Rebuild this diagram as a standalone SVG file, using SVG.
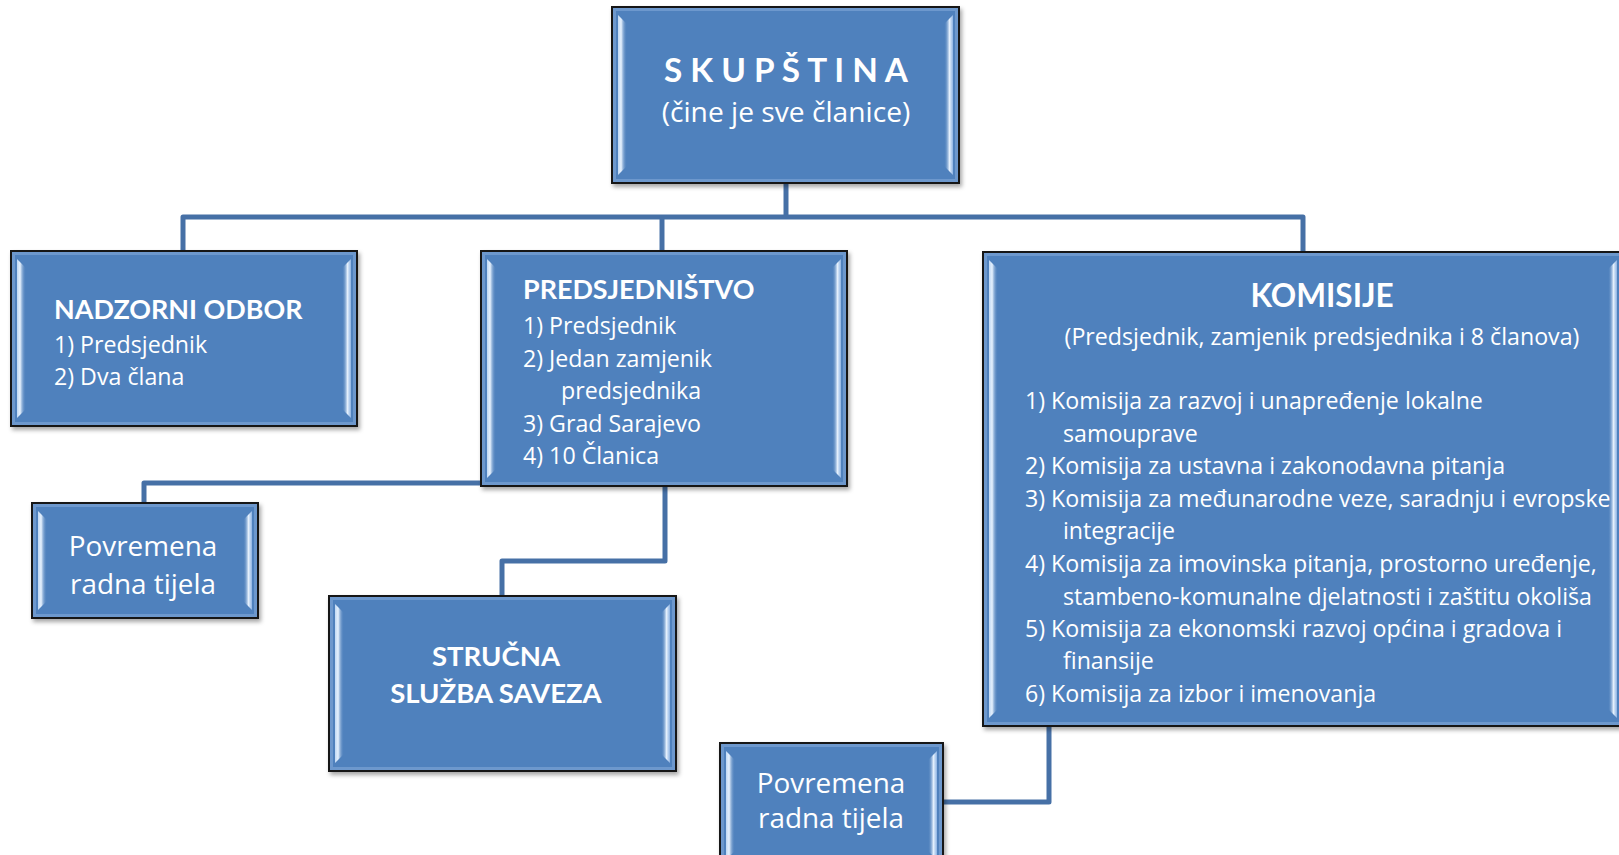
<svg xmlns="http://www.w3.org/2000/svg" width="1619" height="855" viewBox="0 0 1619 855">
<style>
.box{fill:#4F81BD;stroke:#141414;stroke-width:2;}
.hl{fill:none;stroke:#86ABDB;stroke-width:3;opacity:0.55;}
.bl{fill:url(#gL);}
.br{fill:url(#gR);}
.t{font-family:"Open Sans",Lato,sans-serif;fill:#FFFFFF;}
.b{font-family:Lato,"Open Sans",sans-serif;font-weight:bold;}
.body{font-size:23.2px;}
.h{font-size:26.9px;}
.c{text-anchor:middle;}
.pr{font-size:27.9px;}
.conn{fill:none;stroke:#4670A6;stroke-width:5;stroke-linejoin:round;}
</style>
<defs>
<filter id="sh" x="-5%" y="-5%" width="115%" height="120%">
<feDropShadow dx="2" dy="3" stdDeviation="2" flood-color="#000" flood-opacity="0.35"/>
</filter>
<linearGradient id="gL" x1="0" y1="0" x2="1" y2="0">
<stop offset="0" stop-color="#BFD8F4"/>
<stop offset="0.35" stop-color="#E6F1FD"/>
<stop offset="1" stop-color="#4F81BD" stop-opacity="0"/>
</linearGradient>
<linearGradient id="gR" x1="1" y1="0" x2="0" y2="0">
<stop offset="0" stop-color="#8DB3E3"/>
<stop offset="0.4" stop-color="#E6F1FD"/>
<stop offset="1" stop-color="#4F81BD" stop-opacity="0"/>
</linearGradient>
</defs>
<rect width="1619" height="855" fill="#FFFFFF"/>

<g id="connectors">
<path class="conn" d="M786,183 V217"/>
<path class="conn" d="M183,251 V217 H1303 V252"/>
<path class="conn" d="M662,217 V251"/>
<path class="conn" d="M481,483 H144 V503"/>
<path class="conn" d="M665,486 V561 H502 V596"/>
<path class="conn" d="M1049,726 V802 H943"/>
</g>

<g id="skupstina">
<rect class="box" x="612" y="7" width="347" height="176" filter="url(#sh)"/>
<rect class="hl" x="614.5" y="9.5" width="342" height="171"/>
<polygon class="bl" points="618,15 627,24 627,166 618,175"/>
<polygon class="br" points="953,15 944,24 944,166 953,175"/>
<text class="t b c" x="786" y="82" font-size="33.3">S K U P Š T I N A</text>
<text class="t c" x="786" y="122" font-size="28.2">(čine je sve članice)</text>
</g>

<g id="nadzorni-odbor">
<rect class="box" x="11" y="251" width="346" height="175" filter="url(#sh)"/>
<rect class="hl" x="13.5" y="253.5" width="341" height="170"/>
<polygon class="bl" points="17,259 26,268 26,409 17,418"/>
<polygon class="br" points="351,259 342,268 342,409 351,418"/>
<text class="t b h" x="54" y="318.5">NADZORNI ODBOR</text>
<text class="t body" x="54" y="353">1) Predsjednik</text>
<text class="t body" x="54" y="385">2) Dva člana</text>
</g>

<g id="predsjednistvo">
<rect class="box" x="481" y="251" width="366" height="235" filter="url(#sh)"/>
<rect class="hl" x="483.5" y="253.5" width="361" height="230"/>
<polygon class="bl" points="487,259 496,268 496,469 487,478"/>
<polygon class="br" points="841,259 832,268 832,469 841,478"/>
<text class="t b h" x="523" y="299">PREDSJEDNIŠTVO</text>
<text class="t body" x="523" y="334">1) Predsjednik</text>
<text class="t body" x="523" y="366.5">2) Jedan zamjenik</text>
<text class="t body" x="561" y="399">predsjednika</text>
<text class="t body" x="523" y="431.5">3) Grad Sarajevo</text>
<text class="t body" x="523" y="464">4) 10 Članica</text>
</g>

<g id="komisije">
<rect class="box" x="983" y="252" width="640" height="474" filter="url(#sh)"/>
<rect class="hl" x="985.5" y="254.5" width="635" height="469"/>
<polygon class="bl" points="989,260 998,269 998,709 989,718"/>
<polygon class="br" points="1617,260 1608,269 1608,709 1617,718"/>
<text class="t b c" x="1322" y="307" font-size="31.5">KOMISIJE</text>
<text class="t c body" x="1322" y="344.5">(Predsjednik, zamjenik predsjednika i 8 članova)</text>
<text class="t body" x="1025" y="409">1) Komisija za razvoj i unapređenje lokalne</text>
<text class="t body" x="1063" y="441.5">samouprave</text>
<text class="t body" x="1025" y="474">2) Komisija za ustavna i zakonodavna pitanja</text>
<text class="t body" x="1025" y="507">3) Komisija za međunarodne veze, saradnju i evropske</text>
<text class="t body" x="1063" y="539">integracije</text>
<text class="t body" x="1025" y="572">4) Komisija za imovinska pitanja, prostorno uređenje,</text>
<text class="t body" x="1063" y="605">stambeno-komunalne djelatnosti i zaštitu okoliša</text>
<text class="t body" x="1025" y="637">5) Komisija za ekonomski razvoj općina i gradova i</text>
<text class="t body" x="1063" y="669">finansije</text>
<text class="t body" x="1025" y="702">6) Komisija za izbor i imenovanja</text>
</g>

<g id="povremena-1">
<rect class="box" x="32" y="503" width="226" height="115" filter="url(#sh)"/>
<rect class="hl" x="34.5" y="505.5" width="221" height="110"/>
<polygon class="bl" points="38,511 47,520 47,601 38,610"/>
<polygon class="br" points="252,511 243,520 243,601 252,610"/>
<text class="t c pr" x="143" y="556">Povremena</text>
<text class="t c pr" x="143" y="594">radna tijela</text>
</g>

<g id="strucna-sluzba">
<rect class="box" x="329" y="596" width="347" height="175" filter="url(#sh)"/>
<rect class="hl" x="331.5" y="598.5" width="342" height="170"/>
<polygon class="bl" points="335,604 344,613 344,754 335,763"/>
<polygon class="br" points="670,604 661,613 661,754 670,763"/>
<text class="t b c" x="496" y="666" font-size="27.5">STRUČNA</text>
<text class="t b c" x="496" y="703" font-size="27.5">SLUŽBA SAVEZA</text>
</g>

<g id="povremena-2">
<rect class="box" x="720" y="743" width="223" height="125" filter="url(#sh)"/>
<rect class="hl" x="722.5" y="745.5" width="218" height="120"/>
<polygon class="bl" points="726,751 735,760 735,851 726,860"/>
<polygon class="br" points="937,751 928,760 928,851 937,860"/>
<text class="t c pr" x="831" y="793">Povremena</text>
<text class="t c pr" x="831" y="828">radna tijela</text>
</g>
</svg>
